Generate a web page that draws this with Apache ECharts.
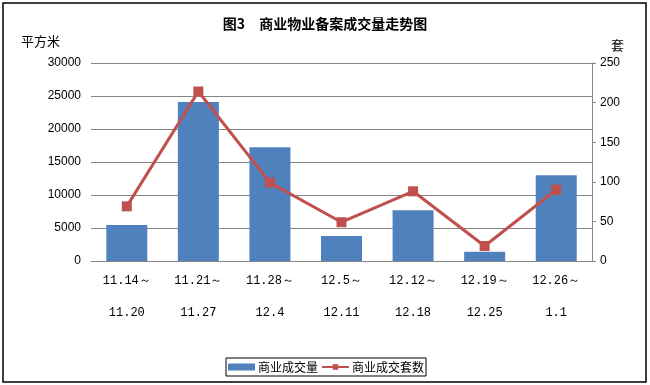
<!DOCTYPE html>
<html>
<head>
<meta charset="utf-8">
<script src="https://cdn.jsdelivr.net/npm/echarts@6/dist/echarts.min.js"></script>
<style>
html,body{margin:0;padding:0;background:#fff;}
#c{width:650px;height:385px;}
</style>
</head>
<body>
<div id="c"></div>
<script>
var weekStart = ['11.14～', '11.21～', '11.28～', '12.5～', '12.12～', '12.19～', '12.26～'];
var weekEnd = ['11.20', '11.27', '12.4', '12.11', '12.18', '12.25', '1.1'];
var areaValues = [5450, 24100, 17250, 3800, 7700, 1400, 13000];
var unitValues = [69, 214, 99, 49, 88, 19, 90];
var leftTicks = [0, 5000, 10000, 15000, 20000, 25000, 30000];
var rightTicks = [0, 50, 100, 150, 200, 250];

var categories = weekStart.map(function (s, i) { return s + '\n' + weekEnd[i]; });
var cjk = '"Noto Sans CJK SC", sans-serif';
var num = '"Liberation Sans", Arial, sans-serif';

var chart = echarts.init(document.getElementById('c'), null, {renderer: 'canvas'});
chart.setOption({
  animation: false,
  backgroundColor: '#ffffff',
  title: {
    text: '图3　商业物业备案成交量走势图',
    left: 'center',
    top: 12,
    textStyle: {fontSize: 14, fontWeight: 'bold', color: '#000', fontFamily: cjk}
  },
  graphic: [{
    type: 'rect',
    shape: {x: 3, y: 3, width: 643, height: 379},
    style: {fill: 'none', stroke: '#000', lineWidth: 1.5},
    silent: true
  }],
  legend: {
    left: 226,
    top: 358,
    orient: 'horizontal',
    padding: [3, 2],
    itemGap: 3,
    itemWidth: 27,
    itemHeight: 7,
    borderColor: '#000',
    borderWidth: 1,
    textStyle: {fontSize: 12, color: '#000', fontFamily: cjk, padding: [0, 0, 0, -2]},
    data: [{name: '商业成交量', icon: 'rect'}, {name: '商业成交套数'}]
  },
  grid: {left: 91, right: 58, top: 63, bottom: 124, containLabel: false},
  xAxis: {
    type: 'category',
    data: categories,
    axisLine: {show: true, lineStyle: {color: '#868686', width: 1}},
    axisTick: {show: false},
    axisLabel: {
      interval: 0,
      margin: 4,
      color: '#000',
      fontSize: 12,
      lineHeight: 32,
      fontFamily: '"Liberation Mono", "DejaVu Sans Mono", monospace'
    }
  },
  yAxis: [{
    type: 'value',
    min: leftTicks[0],
    max: leftTicks[leftTicks.length - 1],
    interval: leftTicks[1] - leftTicks[0],
    name: '平方米',
    nameLocation: 'end',
    nameGap: 15,
    nameTextStyle: {align: 'right', padding: [0, 31, 0, 0], fontSize: 13, color: '#000', fontFamily: cjk},
    axisLine: {show: false},
    axisTick: {show: false},
    axisLabel: {margin: 10, color: '#000', fontSize: 12, fontFamily: num, formatter: function (v) { return String(v); }},
    splitLine: {show: true, lineStyle: {color: '#868686', width: 1}}
  }, {
    type: 'value',
    position: 'right',
    min: rightTicks[0],
    max: rightTicks[rightTicks.length - 1],
    interval: rightTicks[1] - rightTicks[0],
    name: '套',
    nameLocation: 'end',
    nameGap: 11,
    nameTextStyle: {align: 'left', padding: [0, 0, 0, 19], fontSize: 13, color: '#000', fontFamily: cjk},
    axisLine: {show: true, lineStyle: {color: '#868686', width: 1}},
    axisTick: {show: true, length: 4, lineStyle: {color: '#868686'}},
    axisLabel: {margin: 8, color: '#000', fontSize: 12, fontFamily: num, formatter: function (v) { return String(v); }},
    splitLine: {show: false}
  }],
  series: [{
    name: '商业成交量',
    type: 'bar',
    yAxisIndex: 0,
    data: areaValues,
    barWidth: 41,
    itemStyle: {color: '#4F81BD'}
  }, {
    name: '商业成交套数',
    type: 'line',
    yAxisIndex: 1,
    data: unitValues,
    symbol: 'rect',
    symbolSize: 10,
    lineStyle: {color: '#C0504D', width: 3},
    itemStyle: {color: '#C0504D', borderColor: '#C0504D', borderWidth: 0}
  }]
});
</script>
</body>
</html>
